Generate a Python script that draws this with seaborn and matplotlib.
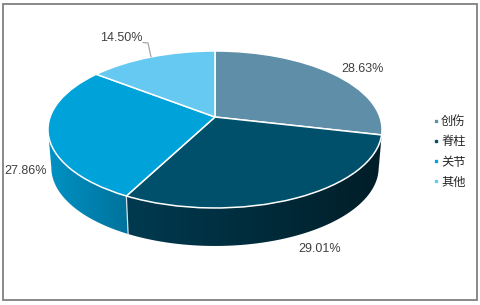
import numpy as np
import matplotlib
matplotlib.use("Agg")
import matplotlib.pyplot as plt
from matplotlib.colors import LinearSegmentedColormap
from matplotlib.lines import Line2D
from matplotlib.patches import Polygon, Rectangle
from matplotlib.transforms import Transform
import seaborn as sns

categories = ["创伤", "脊柱", "关节", "其他"]
shares = [28.63, 29.01, 27.86, 14.50]

sns.set_theme(style="white")
plt.rcParams["font.family"] = ["Liberation Sans", "Noto Sans CJK SC", "DejaVu Sans"]

top_colors = sns.color_palette(["#5f8fa8", "#00506b", "#00a2da", "#66c9f2"])
wall_left = ["#001e28", "#003a50", "#0092c4", "#66c9f2"]
wall_right = ["#001e28", "#001e28", "#00729c", "#66c9f2"]

CX, CY, K, B, C = 215.0, 117.0, 164.9, -57.9, 0.159
DEPTH, SHRINK = 38.0, 0.98


class Perspective(Transform):
    input_dims = output_dims = 2
    is_affine = False

    def transform_non_affine(self, values):
        v = np.asarray(values, dtype=float)
        w = 1 + C * v[:, 1]
        return np.column_stack((CX + K * v[:, 0] / w, (CY + B * v[:, 1]) / w))

    def inverted(self):
        raise NotImplementedError


proj = Perspective()

fig, ax = plt.subplots(figsize=(4.8, 3.05), dpi=100)
fig.subplots_adjust(0, 0, 1, 1)

wedges, _ = ax.pie(shares, colors=top_colors, startangle=90, counterclock=False,
                   wedgeprops=dict(edgecolor="white", linewidth=1.1, zorder=3))
for w in wedges:
    w.set_transform(proj + ax.transData)

# side wall, built from the slice angles (clockwise from the top)
limit = np.degrees(np.arccos(-C))
edges = np.r_[0, np.cumsum(shares)] / np.sum(shares) * 360
for t1, t2, cl, cr in zip(edges[:-1], edges[1:], wall_left, wall_right):
    a, b = max(t1, limit), min(t2, 360 - limit)
    if b <= a:
        continue
    ts = np.radians(np.linspace(a, b, 120))
    pts = proj.transform(np.column_stack((np.sin(ts), np.cos(ts))))
    low = np.column_stack((CX + SHRINK * (pts[:, 0] - CX), pts[:, 1] + DEPTH))
    outline = np.vstack((pts, low[::-1]))
    x0, y0 = outline.min(axis=0)
    x1, y1 = outline.max(axis=0)
    cmap = LinearSegmentedColormap.from_list("wall", [cl, cr])
    im = ax.imshow(np.linspace(0, 1, 256)[None, :], cmap=cmap, extent=(x0, x1, y1, y0),
                   aspect="auto", zorder=2, interpolation="bilinear")
    im.set_clip_path(Polygon(outline, closed=True, transform=ax.transData))
    if t1 > limit + 20:
        ax.plot([pts[0, 0], low[0, 0]], [pts[0, 1], low[0, 1]], color="#d8e2e6", lw=0.9, zorder=2.5)

ax.set_aspect("auto")
ax.set_xlim(0, 480)
ax.set_ylim(305, 0)
ax.set_axis_off()

# percentage labels
spots = [(363, 69.5), (320, 249.5), (25.5, 170.5), (121, 38)]
for s, (x, y) in zip(shares, spots):
    ax.text(x, y, f"{s:.2f}%", ha="center", va="center", fontsize=9.0, color="#404040", zorder=5)
ax.plot([143, 148, 151], [42.5, 43, 57], color="#a6a6a6", lw=0.9, zorder=4)

# legend
handles = [Line2D([], [], ls="", marker="s", ms=1.8, color=c) for c in top_colors]
ax.legend(handles, categories, loc="center left", bbox_to_anchor=(432, 152.5),
          bbox_transform=ax.transData, frameon=False, fontsize=8.8, labelcolor="#262626",
          handlelength=0.6, handletextpad=0.15, labelspacing=0.66, borderpad=0, borderaxespad=0)

ax.add_patch(Rectangle((2.5, 3.5), 474, 296.5, fill=False, edgecolor="#808080", lw=1.3, zorder=6))
fig.savefig("out.png", dpi=100)
